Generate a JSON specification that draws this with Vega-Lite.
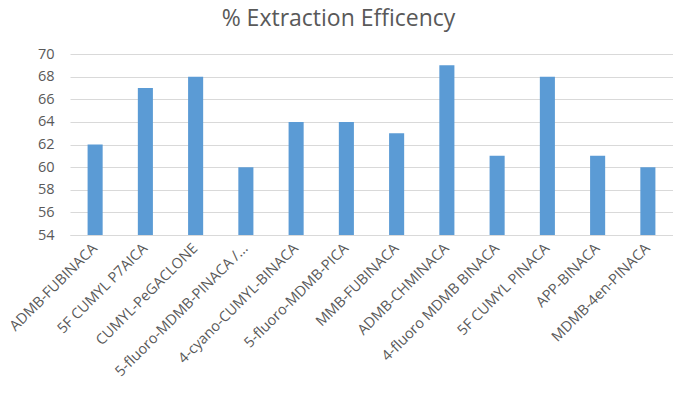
{
  "$schema": "https://vega.github.io/schema/vega-lite/v6.json",
  "width": 603,
  "height": 181,
  "autosize": {"type": "none"},
  "padding": {"left": 70, "top": 54, "right": 0, "bottom": 158},
  "background": "white",
  "title": {
    "text": "% Extraction Efficency",
    "font": "Open Sans",
    "fontSize": 23,
    "fontWeight": "normal",
    "color": "#595959",
    "anchor": "middle",
    "dx": -33,
    "offset": 15
  },
  "config": {"view": {"stroke": null}},
  "data": {
    "values": [
      {"compound": "ADMB-FUBINACA", "efficiency": 62},
      {"compound": "5F CUMYL P7AICA", "efficiency": 67},
      {"compound": "CUMYL-PeGACLONE", "efficiency": 68},
      {"compound": "5-fluoro-MDMB-PINACA /...", "efficiency": 60},
      {"compound": "4-cyano-CUMYL-BINACA", "efficiency": 64},
      {"compound": "5-fluoro-MDMB-PICA", "efficiency": 64},
      {"compound": "MMB-FUBINACA", "efficiency": 63},
      {"compound": "ADMB-CHMINACA", "efficiency": 69},
      {"compound": "4-fluoro MDMB BINACA", "efficiency": 61},
      {"compound": "5F CUMYL PINACA", "efficiency": 68},
      {"compound": "APP-BINACA", "efficiency": 61},
      {"compound": "MDMB-4en-PINACA", "efficiency": 60}
    ]
  },
  "mark": {"type": "bar", "color": "#5b9bd5"},
  "encoding": {
    "x": {
      "field": "compound",
      "type": "nominal",
      "sort": null,
      "scale": {"paddingInner": 0.7, "paddingOuter": 0.35},
      "axis": {
        "title": null,
        "labelAngle": -45,
        "labelAlign": "right",
        "labelBaseline": "middle",
        "labelFont": "Open Sans",
        "labelFontSize": 14.5,
        "labelColor": "#595959",
        "labelPadding": 11,
        "ticks": false,
        "domainColor": "#d9d9d9",
        "labelLimit": 300
      }
    },
    "y": {
      "field": "efficiency",
      "type": "quantitative",
      "scale": {"domain": [54, 70], "zero": false, "nice": false},
      "axis": {
        "title": null,
        "values": [54, 56, 58, 60, 62, 64, 66, 68, 70],
        "labelFont": "Open Sans",
        "labelFontSize": 14.5,
        "labelColor": "#595959",
        "labelPadding": 16,
        "ticks": false,
        "domain": false,
        "gridColor": "#d9d9d9"
      }
    },
    "y2": {"datum": 54}
  }
}
